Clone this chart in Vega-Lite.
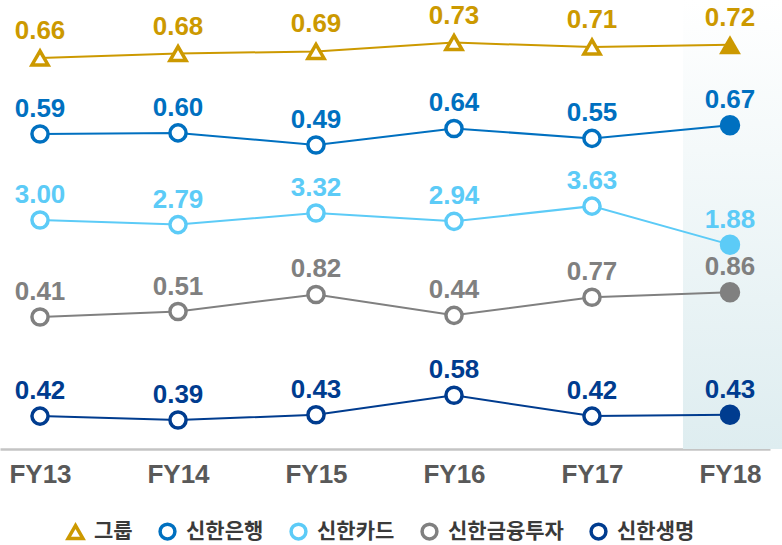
{
  "$schema": "https://vega.github.io/schema/vega-lite/v6.json",
  "width": 770,
  "height": 449,
  "autosize": "none",
  "padding": {"top": 0, "left": 0, "right": 12, "bottom": 96},
  "background": "white",
  "config": {
    "view": {"stroke": null},
    "legend": {
      "orient": "none", "legendX": 65, "legendY": 521, "direction": "horizontal", "title": null,
      "labelFont": "Noto Sans CJK KR", "labelFontWeight": "bold", "labelFontSize": 21, "labelColor": "#3a3a3a",
      "symbolStrokeWidth": 3.5, "symbolSize": 220, "columnPadding": 20, "labelOffset": 8, "symbolFillColor": "white"
    }
  },
  "datasets": {
    "d": [
      {"series": "그룹", "period": "FY13", "value": 0.66},
      {"series": "그룹", "period": "FY14", "value": 0.68},
      {"series": "그룹", "period": "FY15", "value": 0.69},
      {"series": "그룹", "period": "FY16", "value": 0.73},
      {"series": "그룹", "period": "FY17", "value": 0.71},
      {"series": "그룹", "period": "FY18", "value": 0.72},
      {"series": "신한은행", "period": "FY13", "value": 0.59},
      {"series": "신한은행", "period": "FY14", "value": 0.60},
      {"series": "신한은행", "period": "FY15", "value": 0.49},
      {"series": "신한은행", "period": "FY16", "value": 0.64},
      {"series": "신한은행", "period": "FY17", "value": 0.55},
      {"series": "신한은행", "period": "FY18", "value": 0.67},
      {"series": "신한카드", "period": "FY13", "value": 3.00},
      {"series": "신한카드", "period": "FY14", "value": 2.79},
      {"series": "신한카드", "period": "FY15", "value": 3.32},
      {"series": "신한카드", "period": "FY16", "value": 2.94},
      {"series": "신한카드", "period": "FY17", "value": 3.63},
      {"series": "신한카드", "period": "FY18", "value": 1.88},
      {"series": "신한금융투자", "period": "FY13", "value": 0.41},
      {"series": "신한금융투자", "period": "FY14", "value": 0.51},
      {"series": "신한금융투자", "period": "FY15", "value": 0.82},
      {"series": "신한금융투자", "period": "FY16", "value": 0.44},
      {"series": "신한금융투자", "period": "FY17", "value": 0.77},
      {"series": "신한금융투자", "period": "FY18", "value": 0.86},
      {"series": "신한생명", "period": "FY13", "value": 0.42},
      {"series": "신한생명", "period": "FY14", "value": 0.39},
      {"series": "신한생명", "period": "FY15", "value": 0.43},
      {"series": "신한생명", "period": "FY16", "value": 0.58},
      {"series": "신한생명", "period": "FY17", "value": 0.42},
      {"series": "신한생명", "period": "FY18", "value": 0.43}
    ],
    "shade": [{"period": "FY18"}]
  },
  "data": {"name": "d"},
  "encoding": {
    "x": {
      "field": "period",
      "type": "ordinal",
      "scale": {"type": "point", "padding": 0.29},
      "axis": {
        "title": null,
        "ticks": false,
        "grid": false,
        "domainColor": "#c4c4c4",
        "domainWidth": 2.5,
        "labelFont": "Liberation Sans, Arial",
        "labelFontWeight": "bold",
        "labelFontSize": 26,
        "labelColor": "#595959",
        "labelPadding": 12,
        "labelAngle": 0
      }
    }
  },
  "layer": [
    {
      "data": {"name": "shade"},
      "mark": {
        "type": "bar",
        "width": 100,
        "xOffset": 3,
        "color": {
          "gradient": "linear",
          "x1": 0, "y1": 0, "x2": 0, "y2": 1,
          "stops": [
            {"offset": 0, "color": "#ffffff"},
            {"offset": 1, "color": "#deedf0"}
          ]
        }
      },
      "encoding": {"x": {"field": "period", "type": "ordinal"}}
    },
    {
      "transform": [{"filter": "datum.series === '그룹'"}],
      "encoding": {"y": {"field": "value", "type": "quantitative", "scale": {"domain": [-1.11727, 0.92364], "zero": false, "nice": false}, "axis": null}},
      "layer": [
        {"mark": {"type": "line", "strokeWidth": 2}, "encoding": {"color": {"field": "series", "type": "nominal", "scale": {"domain": ["그룹", "신한은행", "신한카드", "신한금융투자", "신한생명"], "range": ["#cc9900", "#0070c0", "#5ccbf7", "#808080", "#003c8f"]}}}},
        {"transform": [{"filter": "datum.period !== 'FY18'"}], "mark": {"type": "point", "filled": false, "fill": "white", "fillOpacity": 1, "strokeWidth": 3.5, "opacity": 1, "size": 260},
         "encoding": {
           "color": {"field": "series", "type": "nominal"},
           "shape": {"field": "series", "type": "nominal", "scale": {"domain": ["그룹", "신한은행", "신한카드", "신한금융투자", "신한생명"], "range": ["triangle-up", "circle", "circle", "circle", "circle"]}}
         }},
        {"transform": [{"filter": "datum.period === 'FY18'"}], "mark": {"type": "point", "filled": true, "opacity": 1, "fillOpacity": 1, "strokeWidth": 0, "size": 480},
         "encoding": {
           "fill": {"field": "series", "type": "nominal", "legend": null, "scale": {"domain": ["신한생명", "그룹", "신한은행", "신한카드", "신한금융투자"], "range": ["#003c8f", "#cc9900", "#0070c0", "#5ccbf7", "#808080"]}},
           "shape": {"condition": {"test": "datum.series === '그룹'", "value": "triangle-up"}, "value": "circle"}
         }},
        {"mark": {"type": "text", "dy": -19, "baseline": "alphabetic", "font": "Liberation Sans, Arial", "fontWeight": "bold", "fontSize": 26}, "encoding": {"text": {"field": "value", "type": "quantitative", "format": ".2f"}, "fill": {"field": "series", "type": "nominal", "legend": null}}}
      ]
    },
    {
      "transform": [{"filter": "datum.series === '신한은행'"}],
      "encoding": {"y": {"field": "value", "type": "quantitative", "scale": {"domain": [-2.27364, 1.80818], "zero": false, "nice": false}, "axis": null}},
      "layer": [
        {"mark": {"type": "line", "strokeWidth": 2}, "encoding": {"color": {"field": "series", "type": "nominal"}}},
        {"transform": [{"filter": "datum.period !== 'FY18'"}], "mark": {"type": "point", "filled": false, "fill": "white", "fillOpacity": 1, "strokeWidth": 3.5, "opacity": 1, "size": 260}, "encoding": {"color": {"field": "series", "type": "nominal"}, "shape": {"field": "series", "type": "nominal"}}},
        {"transform": [{"filter": "datum.period === 'FY18'"}], "mark": {"type": "point", "filled": true, "opacity": 1, "fillOpacity": 1, "strokeWidth": 0, "size": 420}, "encoding": {"fill": {"field": "series", "type": "nominal", "legend": null}, "shape": {"condition": {"test": "datum.series === '그룹'", "value": "triangle-up"}, "value": "circle"}}},
        {"mark": {"type": "text", "dy": -17, "baseline": "alphabetic", "font": "Liberation Sans, Arial", "fontWeight": "bold", "fontSize": 26}, "encoding": {"text": {"field": "value", "type": "quantitative", "format": ".2f"}, "fill": {"field": "series", "type": "nominal", "legend": null}}}
      ]
    },
    {
      "transform": [{"filter": "datum.series === '신한카드'"}],
      "encoding": {"y": {"field": "value", "type": "quantitative", "scale": {"domain": [-7.40909, 13.0], "zero": false, "nice": false}, "axis": null}},
      "layer": [
        {"mark": {"type": "line", "strokeWidth": 2}, "encoding": {"color": {"field": "series", "type": "nominal"}}},
        {"transform": [{"filter": "datum.period !== 'FY18'"}], "mark": {"type": "point", "filled": false, "fill": "white", "fillOpacity": 1, "strokeWidth": 3.5, "opacity": 1, "size": 260}, "encoding": {"color": {"field": "series", "type": "nominal"}, "shape": {"field": "series", "type": "nominal"}}},
        {"transform": [{"filter": "datum.period === 'FY18'"}], "mark": {"type": "point", "filled": true, "opacity": 1, "fillOpacity": 1, "strokeWidth": 0, "size": 420}, "encoding": {"fill": {"field": "series", "type": "nominal", "legend": null}, "shape": {"condition": {"test": "datum.series === '그룹'", "value": "triangle-up"}, "value": "circle"}}},
        {"mark": {"type": "text", "dy": -17, "baseline": "alphabetic", "font": "Liberation Sans, Arial", "fontWeight": "bold", "fontSize": 26}, "encoding": {"text": {"field": "value", "type": "quantitative", "format": ".2f"}, "fill": {"field": "series", "type": "nominal", "legend": null}}}
      ]
    },
    {
      "transform": [{"filter": "datum.series === '신한금융투자'"}],
      "encoding": {"y": {"field": "value", "type": "quantitative", "scale": {"domain": [-1.99, 6.17364], "zero": false, "nice": false}, "axis": null}},
      "layer": [
        {"mark": {"type": "line", "strokeWidth": 2}, "encoding": {"color": {"field": "series", "type": "nominal"}}},
        {"transform": [{"filter": "datum.period !== 'FY18'"}], "mark": {"type": "point", "filled": false, "fill": "white", "fillOpacity": 1, "strokeWidth": 3.5, "opacity": 1, "size": 260}, "encoding": {"color": {"field": "series", "type": "nominal"}, "shape": {"field": "series", "type": "nominal"}}},
        {"transform": [{"filter": "datum.period === 'FY18'"}], "mark": {"type": "point", "filled": true, "opacity": 1, "fillOpacity": 1, "strokeWidth": 0, "size": 420}, "encoding": {"fill": {"field": "series", "type": "nominal", "legend": null}, "shape": {"condition": {"test": "datum.series === '그룹'", "value": "triangle-up"}, "value": "circle"}}},
        {"mark": {"type": "text", "dy": -17, "baseline": "alphabetic", "font": "Liberation Sans, Arial", "fontWeight": "bold", "fontSize": 26}, "encoding": {"text": {"field": "value", "type": "quantitative", "format": ".2f"}, "fill": {"field": "series", "type": "nominal", "legend": null}}}
      ]
    },
    {
      "transform": [{"filter": "datum.series === '신한생명'"}],
      "encoding": {"y": {"field": "value", "type": "quantitative", "scale": {"domain": [0.16692, 3.62077], "zero": false, "nice": false}, "axis": null}},
      "layer": [
        {"mark": {"type": "line", "strokeWidth": 2}, "encoding": {"color": {"field": "series", "type": "nominal"}}},
        {"transform": [{"filter": "datum.period !== 'FY18'"}], "mark": {"type": "point", "filled": false, "fill": "white", "fillOpacity": 1, "strokeWidth": 3.5, "opacity": 1, "size": 260}, "encoding": {"color": {"field": "series", "type": "nominal"}, "shape": {"field": "series", "type": "nominal"}}},
        {"transform": [{"filter": "datum.period === 'FY18'"}], "mark": {"type": "point", "filled": true, "opacity": 1, "fillOpacity": 1, "strokeWidth": 0, "size": 420}, "encoding": {"fill": {"field": "series", "type": "nominal", "legend": null}, "shape": {"condition": {"test": "datum.series === '그룹'", "value": "triangle-up"}, "value": "circle"}}},
        {"mark": {"type": "text", "dy": -17, "baseline": "alphabetic", "font": "Liberation Sans, Arial", "fontWeight": "bold", "fontSize": 26}, "encoding": {"text": {"field": "value", "type": "quantitative", "format": ".2f"}, "fill": {"field": "series", "type": "nominal", "legend": null}}}
      ]
    }
  ],
  "resolve": {"scale": {"y": "independent"}}
}
